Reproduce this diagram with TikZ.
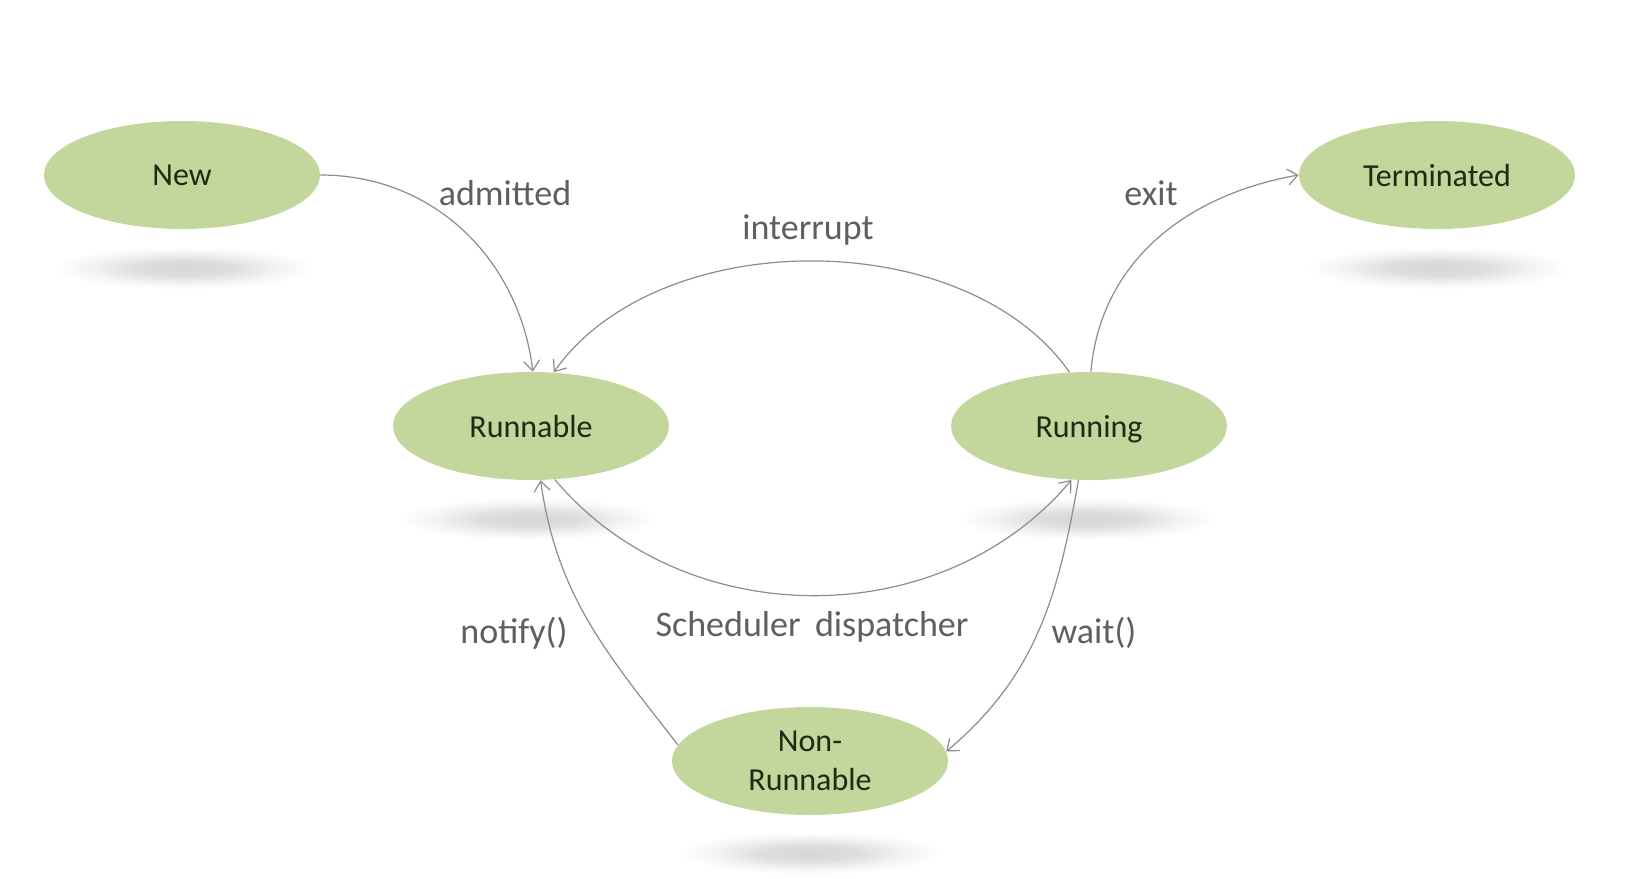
\documentclass[tikz,border=0pt]{standalone}
\usepackage{fontspec}
\setmainfont{Carlito}
\usetikzlibrary{shapes.geometric,arrows.meta}
\definecolor{statefill}{HTML}{C3D69B}
\definecolor{statetext}{HTML}{1F2A14}
\definecolor{edgegray}{HTML}{8C8C8C}
\definecolor{labelgray}{HTML}{5F5F5F}
\pgfdeclareradialshading{shadowblob}{\pgfpoint{0bp}{0bp}}{color(0bp)=(black!16); color(9bp)=(black!13); color(17bp)=(black!5); color(24bp)=(white); color(50bp)=(white)}

\begin{document}
\begin{tikzpicture}[x=0.5pt,y=-0.5pt]
      % Styles
      \tikzset{state/.style={ellipse,fill=statefill,draw=none,minimum width=138pt,
                 minimum height=54pt,inner sep=0pt,align=center,text=statetext,
                 text depth=0pt,font=\fontsize{16}{19.5}\selectfont},
               trans/.style={-{Straight Barb[length=5pt,width=8pt]},edgegray,line width=0.6pt},
               lbl/.style={text=labelgray,inner sep=0pt,font=\fontsize{18}{22}\selectfont}}

      \useasboundingbox (0,0) rectangle (1626,878);

      % soft shadows under the states
      \foreach \cx/\cy in {184/268,1438/268,529/519,1087/519,810/853}{%
        \shade[shading=shadowblob] (\cx,\cy) ellipse (68pt and 11pt);
      }

      % states
      \node[state] (new) at (182,175) {New};
      \node[state] (terminated) at (1437,175) {Terminated};
      \node[state] (runnable) at (531,426) {Runnable};
      \node[state] (running) at (1089,426) {Running};
      \node[state] (nonrunnable) at (810,761) {Non-\\Runnable};

      % transitions
      \draw[trans] (new.east) to[out=0,in=97] (runnable.88);
      \draw[trans] (running.110) to[out=125,in=55,looseness=0.9] (runnable.67);
      \draw[trans] (running.88) to[out=85,in=190] (terminated.west);
      \draw[trans] (runnable.-66) to[out=-50,in=-130] (running.-108);
      \draw[trans] (running.-101) to[out=-100,in=40] (nonrunnable.4);
      \draw[trans] (nonrunnable.173) to[out=128,in=-82] (runnable.-80);

      % transition labels
      \node[lbl] (lbladmitted) at (505,193) {admitted};
      \node[lbl] (lblinterrupt) at (808,230) {interrupt};
      \node[lbl] (lblexit) at (1151,193) {exit};
      \node[lbl] (lbldispatch) at (812,627) {Scheduler\hspace{0.4em}dispatcher};
      \node[lbl] (lblnotify) at (514,633) {notify()};
      \node[lbl] (lblwait) at (1094,633) {wait()};
\end{tikzpicture}
\end{document}
